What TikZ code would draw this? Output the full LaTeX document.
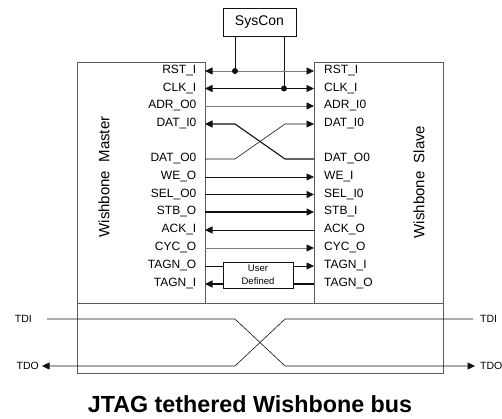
\documentclass[tikz,border=0pt]{standalone}
\usepackage{fontspec}
\setmainfont{Liberation Sans}
\usepackage{tikz}
\usetikzlibrary{arrows.meta,positioning,calc}
\definecolor{inkBlack}{RGB}{17, 17, 17}
\definecolor{inkFrame}{RGB}{90, 90, 90}
\definecolor{inkWire}{RGB}{125, 125, 125}

\begin{document}
\begin{tikzpicture}[x=1pt, y=-1pt,
    frame/.style={draw=inkFrame, line width=0.8pt, inner sep=0pt, outer sep=0pt},
    mlab/.style={anchor=east, inner xsep=8.5pt, inner ysep=0pt, font=\fontsize{12}{13}\selectfont},
    slab/.style={anchor=west, inner xsep=10pt, inner ysep=0pt, font=\fontsize{12}{13}\selectfont},
    wire/.style={draw=inkBlack, line width=0.6pt},
    greywire/.style={draw=inkWire, line width=0.8pt},
    bus/.style={draw=inkBlack, line width=1.1pt},
    tip/.style={-{Triangle[length=7.5pt,width=7pt,color=inkBlack]}},
    tipboth/.style={{Triangle[length=7.5pt,width=7pt,color=inkBlack]}-{Triangle[length=7.5pt,width=7pt,color=inkBlack]}},
    tiplab/.style={inner sep=0pt, font=\fontsize{10.5}{12}\selectfont}]
    \useasboundingbox (0,0) rectangle (502,419);

    % boxes
    \node[frame, minimum width=128pt, minimum height=241pt, anchor=north west] (master) at (77,62) {};
    \node[frame, minimum width=129pt, minimum height=241pt, anchor=north west] (slave) at (314,62) {};
    \node[frame, minimum width=366pt, minimum height=70pt, anchor=north west] (jtag) at (77,303) {};
    \node[frame, draw=inkBlack, minimum width=73pt, minimum height=28pt, font=\fontsize{14}{16}\selectfont] (syscon) at (259.5,22) {SysCon};
    \node[frame, draw=inkBlack, fill=white, minimum width=70pt, minimum height=26pt, align=center,
          font=\fontsize{9.5}{13}\selectfont] (user) at (258,275) {User\\Defined};

    \node[rotate=90, font=\fontsize{15}{17}\selectfont] (mname) at (104,177) {Wishbone\ \ Master};
    \node[rotate=90, font=\fontsize{15}{17}\selectfont] (sname) at (419,182) {Wishbone\ \ Slave};

    % master side
    \node[mlab] (mrst) at (205,71) {RST\_I};
    \node[mlab] (mclk) at (205,88.5) {CLK\_I};
    \node[mlab] (madr) at (205,106) {ADR\_O0};
    \node[mlab] (mdati) at (205,124) {DAT\_I0};
    \node[mlab] (mdato) at (205,159) {DAT\_O0};
    \node[mlab] (mwe) at (205,177) {WE\_O};
    \node[mlab] (msel) at (205,194.5) {SEL\_O0};
    \node[mlab] (mstb) at (205,212) {STB\_O};
    \node[mlab] (mack) at (205,230) {ACK\_I};
    \node[mlab] (mcyc) at (205,248) {CYC\_O};
    \node[mlab] (mtago) at (205,266) {TAGN\_O};
    \node[mlab] (mtagi) at (205,284) {TAGN\_I};

    % slave side
    \node[slab] (srst) at (314,71) {RST\_I};
    \node[slab] (sclk) at (314,88.5) {CLK\_I};
    \node[slab] (sadr) at (314,106) {ADR\_I0};
    \node[slab] (sdati) at (314,124) {DAT\_I0};
    \node[slab] (sdato) at (314,159) {DAT\_O0};
    \node[slab] (swe) at (314,177) {WE\_I};
    \node[slab] (ssel) at (314,194.5) {SEL\_I0};
    \node[slab] (sstb) at (314,212) {STB\_I};
    \node[slab] (sack) at (314,230) {ACK\_O};
    \node[slab] (scyc) at (314,248) {CYC\_O};
    \node[slab] (stagi) at (314,266) {TAGN\_I};
    \node[slab] (stago) at (314,284) {TAGN\_O};

    % syscon taps
    \coordinate (rsttap) at (235,71);
    \coordinate (clktap) at (284,88.5);
    \draw[wire] (syscon.south -| rsttap) -- (rsttap);
    \draw[wire] (syscon.south -| clktap) -- (clktap);
    \draw[greywire, tipboth] (mrst.east) -- (srst.west);
    \draw[wire, tipboth] (mclk.east) -- (sclk.west);
    \fill[inkBlack] (rsttap) circle (3pt);
    \fill[inkBlack] (clktap) circle (3pt);

    \draw[greywire, tip] (madr.east) -- (sadr.west);
    \draw[bus, tip] (sdato.west) -- ([xshift=-29pt]sdato.west) -- ([xshift=30pt]mdati.east) -- (mdati.east);
    \draw[wire, tip] (mdato.east) -- ([xshift=30pt]mdato.east) -- ([xshift=-29pt]sdati.west) -- (sdati.west);
    \draw[wire, tip] (mwe.east) -- (swe.west);
    \draw[bus, tip] (msel.east) -- (ssel.west);
    \draw[bus, tip] (mstb.east) -- (sstb.west);
    \draw[wire, tip] (sack.west) -- (mack.east);
    \draw[greywire, tip] (mcyc.east) -- (scyc.west);
    \draw[wire] (mtago.east) -- (mtago -| user.west);
    \draw[wire, tip] (user.east |- stagi) -- (stagi.west);
    \draw[bus] (stago.west) -- (stago -| user.east);
    \draw[bus, tip] (user.west |- mtagi) -- (mtagi.east);

    % jtag tether
    \coordinate (tdiL) at (47,319);
    \coordinate (tdoL) at (42,366);
    \coordinate (tdiR) at (473,319);
    \coordinate (tdoR) at (475,366);
    \node[tiplab, left=15pt of tdiL] (tdiLtxt) {TDI};
    \node[tiplab, left=3pt of tdoL] (tdoLtxt) {TDO};
    \node[tiplab, right=7pt of tdiR] (tdiRtxt) {TDI};
    \node[tiplab, right=5pt of tdoR] (tdoRtxt) {TDO};
    \draw[wire, tip] (tdiL) -- (235,319) -- (285,366) -- (tdoR);
    \draw[wire, tip] (tdiR) -- (285,319) -- (235,366) -- (tdoL);

    \node[font=\bfseries\fontsize{23.3}{26}\selectfont] (title) at (250,404) {JTAG tethered Wishbone bus};
\end{tikzpicture}
\end{document}
